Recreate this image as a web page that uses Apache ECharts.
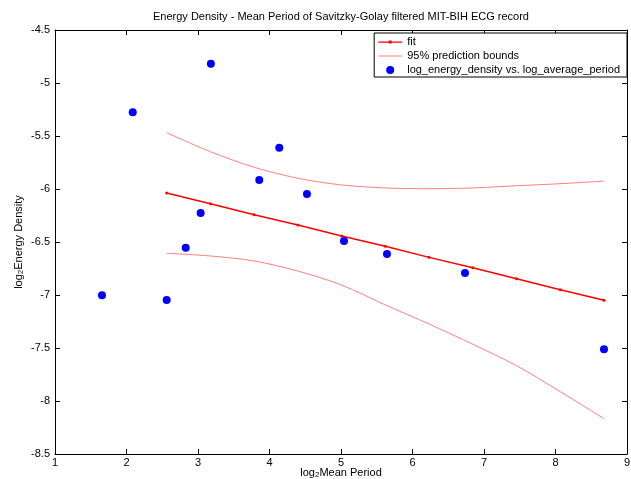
<!DOCTYPE html>
<html><head><meta charset="utf-8">
<script src="https://cdn.jsdelivr.net/npm/echarts@6/dist/echarts.min.js"></script>
<style>html,body{margin:0;padding:0;background:#fff}#c{width:631px;height:479px}</style>
</head><body><div id="c"></div>
<script>
var pointX = [1.657, 2.087, 2.562, 2.828, 3.037, 3.18, 3.857, 4.137, 4.524, 5.042, 5.643, 6.734, 8.678];
var pointY = [-7.003, -5.276, -7.047, -6.554, -6.226, -4.818, -5.915, -5.61, -6.047, -6.491, -6.613, -6.792, -7.512];
var fitX = [2.562, 3.174, 3.785, 4.397, 5.009, 5.620, 6.232, 6.844, 7.455, 8.067, 8.678];
var fitY = [-6.038, -6.14, -6.243, -6.34, -6.443, -6.54, -6.645, -6.742, -6.846, -6.95, -7.05];
var upperY = [-5.469, -5.648, -5.795, -5.899, -5.962, -5.99, -5.997, -5.99, -5.969, -5.95, -5.925];
var lowerY = [-6.607, -6.632, -6.679, -6.774, -6.906, -7.094, -7.274, -7.465, -7.667, -7.912, -8.167];
var xTicks = [1, 2, 3, 4, 5, 6, 7, 8, 9];
var yTicks = [-8.5, -8, -7.5, -7, -6.5, -6, -5.5, -5, -4.5];

function zip(a, b) { return a.map(function (v, i) { return [v, b[i]]; }); }
var font = 'Liberation Sans, Arial, sans-serif';
var chart = echarts.init(document.getElementById('c'), null, {renderer: 'canvas'});
var axisCommon = {
  axisLine: {show: true, lineStyle: {color: '#000', width: 1}},
  axisTick: {show: true, inside: true, length: 5, lineStyle: {color: '#000'}},
  splitLine: {show: false}
};
var subRich = {s: {fontFamily: font, fontSize: 8, color: '#000', padding: [5, 0, 0, 0]}};
chart.setOption({
  animation: false,
  backgroundColor: '#fff',
  title: {
    text: 'Energy Density - Mean Period of Savitzky-Golay filtered MIT-BIH ECG record',
    left: 341, top: 11, textAlign: 'center', padding: 0,
    textStyle: {fontFamily: font, fontSize: 11, fontWeight: 'normal', color: '#000'}
  },
  grid: {left: 55, right: 4, top: 30, bottom: 25, containLabel: false, outerBoundsMode: 'none'},
  legend: {
    right: 4, top: 33, orient: 'vertical',
    backgroundColor: '#fff', borderColor: '#000', borderWidth: 1,
    padding: [3, 7, 1, 4], itemGap: 2, itemWidth: 24, itemHeight: 12,
    textStyle: {fontFamily: font, fontSize: 11, color: '#000'},
    data: [
      {name: 'fit', icon: 'path://M0,0M24,12M0,5.4h24v1.3h-24zM10.5,4.5h3v3h-3z', itemStyle: {color: '#ff0000'}},
      {name: '95% prediction bounds', icon: 'path://M0,0M24,12M0,5.5h24v1h-24z', itemStyle: {color: '#ff8080'}},
      {name: 'log_energy_density vs. log_average_period', icon: 'path://M0,0M24,12M8,6a4,4 0 1,0 8,0a4,4 0 1,0 -8,0z', itemStyle: {color: '#0000ff'}}
    ]
  },
  xAxis: [
    Object.assign({type: 'value', min: 1, max: 9, interval: 1, position: 'bottom',
      name: 'log{s|2}Mean Period', nameLocation: 'middle', nameGap: 12, nameMoveOverlap: false,
      nameTextStyle: {fontFamily: font, fontSize: 11, color: '#000', rich: subRich},
      axisLabel: {fontFamily: font, fontSize: 11, color: '#000', margin: 3}}, axisCommon),
    Object.assign({type: 'value', min: 1, max: 9, interval: 1, position: 'top',
      axisLabel: {show: false}}, axisCommon)
  ],
  yAxis: [
    Object.assign({type: 'value', min: -8.5, max: -4.5, interval: 0.5, position: 'left',
      name: 'log{s|2}Energy Density', nameLocation: 'middle', nameGap: 30, nameRotate: 90, nameMoveOverlap: false,
      nameTextStyle: {fontFamily: font, fontSize: 11, color: '#000', rich: subRich},
      axisLabel: {fontFamily: font, fontSize: 11, color: '#000', margin: 5}}, axisCommon),
    Object.assign({type: 'value', min: -8.5, max: -4.5, interval: 0.5, position: 'right',
      axisLabel: {show: false}}, axisCommon)
  ],
  series: [
    {name: 'fit', type: 'line', data: zip(fitX, fitY), symbol: 'circle', symbolSize: 3,
      lineStyle: {color: '#ff0000', width: 1.5}, itemStyle: {color: '#ff0000'}, z: 3},
    {name: '95% prediction bounds', type: 'line', data: zip(fitX, upperY), symbol: 'none', smooth: 0.3,
      lineStyle: {color: '#ff8080', width: 1}, itemStyle: {color: '#ff8080'}, z: 2},
    {name: '95% prediction bounds', type: 'line', data: zip(fitX, lowerY), symbol: 'none', smooth: 0.3,
      lineStyle: {color: '#ff8080', width: 1}, itemStyle: {color: '#ff8080'}, z: 2},
    {name: 'log_energy_density vs. log_average_period', type: 'scatter', data: zip(pointX, pointY),
      symbol: 'circle', symbolSize: 8, itemStyle: {color: '#0000ff', opacity: 1}, z: 4}
  ]
});
</script></body></html>
